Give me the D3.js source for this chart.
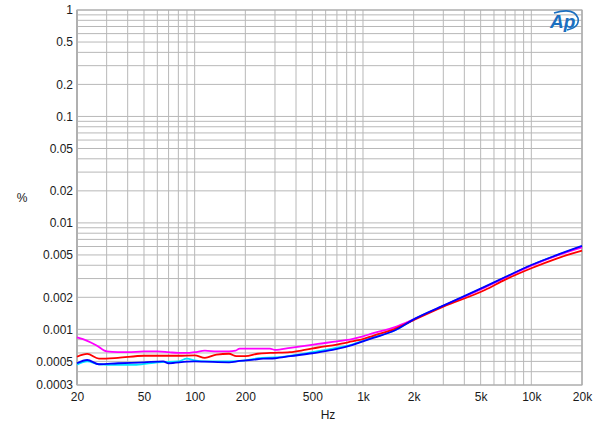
<!DOCTYPE html>
<html>
<head>
<meta charset="utf-8">
<script src="https://cdn.jsdelivr.net/npm/d3@7"></script>
<style>
  body { margin: 0; background: #fff; }
  svg { display: block; }
  text { font-family: "Liberation Sans", Arial, sans-serif; font-size: 12px; fill: #1a1a1a; }
</style>
</head>
<body>
<svg id="chart" width="600" height="433"></svg>
<script>
// ---- data ----
const xTickLabels = ["20","50","100","200","500","1k","2k","5k","10k","20k"];
const xTickValues = [20,50,100,200,500,1000,2000,5000,10000,20000];
const yTickLabels = ["1","0.5","0.2","0.1","0.05","0.02","0.01","0.005","0.002","0.001","0.0005","0.0003"];
const yTickValues = [1,0.5,0.2,0.1,0.05,0.02,0.01,0.005,0.002,0.001,0.0005,0.0003];

const cyanFreq = [20,23,27,35,45,60,80,90,100,115,160,200,250,300,500,660,860,1000,1150,1550,2000,3000,5300,7000,10000,14000,20000];
const cyanVal  = [0.000466,0.0005,0.00047,0.000464,0.000465,0.00049,0.0005,0.00053,0.00051,0.0005,0.0005,0.00051,0.00054,0.000545,0.00061,0.00066,0.00072,0.00078,0.00084,0.00098,0.00124,0.00166,0.0025,0.00308,0.004,0.00493,0.00604];

const magentaFreq = [20,23,26,30,35,40,50,60,70,80,90,100,115,135,160,175,185,220,280,300,370,450,540,700,860,1000,1150,1550,2000,3000,5300,7000,10000,14000,20000];
const magentaVal  = [0.00084,0.00078,0.00071,0.00062,0.00061,0.00061,0.00062,0.00062,0.00061,0.0006,0.0006,0.00061,0.00063,0.00062,0.00062,0.00063,0.00066,0.00066,0.00066,0.00064,0.00067,0.0007,0.00073,0.00077,0.00081,0.00086,0.00092,0.00105,0.00124,0.00166,0.00248,0.00306,0.00397,0.0049,0.0059];

const redFreq = [20,23,27,35,50,80,100,115,135,160,177,200,237,282,368,450,540,700,860,1000,1150,1550,2000,3000,5300,7000,10000,14000,20000];
const redVal  = [0.000553,0.000587,0.00053,0.00054,0.000565,0.000565,0.00057,0.00054,0.00058,0.00059,0.00056,0.00056,0.00059,0.0006,0.00061,0.00064,0.000675,0.00072,0.00077,0.00081,0.00087,0.00101,0.00122,0.00163,0.00234,0.00293,0.00375,0.0046,0.00548];

const blueFreq = [20,23,27,35,50,65,70,90,100,115,160,185,225,255,300,370,500,660,860,1000,1150,1550,2000,3000,5300,7000,10000,14000,20000];
const blueVal  = [0.00048,0.000515,0.00047,0.00048,0.00049,0.0005,0.00048,0.000497,0.0005,0.000497,0.00049,0.000505,0.00052,0.00053,0.000535,0.00056,0.000596,0.00064,0.00071,0.00077,0.00083,0.00098,0.00124,0.00167,0.00252,0.0031,0.00402,0.00495,0.00607];

const seriesList = [
  {freq: cyanFreq, val: cyanVal, color: "#00e5ff"},
  {freq: magentaFreq, val: magentaVal, color: "#ff00ff"},
  {freq: redFreq, val: redVal, color: "#ff0000"},
  {freq: blueFreq, val: blueVal, color: "#0000ff"}
];

// ---- layout ----
const L = 77, R = 582, T = 10, B = 385;
const svg = d3.select("#chart");
const x = d3.scaleLog().domain([20, 20000]).range([L, R]);
const y = d3.scaleLog().domain([0.0003, 1]).range([B, T]);

// grid values: every integer multiple per decade
const xGrid = [];
for (let d = 10; d <= 10000; d *= 10) for (let m = 1; m <= 9; m++) { const v = d * m; if (v >= 20 && v <= 20000) xGrid.push(v); }
xGrid.push(20000);
const yGrid = [];
for (let d = 0.0001; d <= 0.11; d *= 10) for (let m = 1; m <= 9; m++) { const v = d * m; if (v >= 0.00029 && v <= 1.0001) yGrid.push(v); }
yGrid.push(1);

const grid = svg.append("g");
grid.selectAll("line.v").data(xGrid).enter().append("line")
  .attr("x1", d => x(d)).attr("x2", d => x(d)).attr("y1", T).attr("y2", B)
  .attr("stroke", "#b8b8b8").attr("stroke-width", 1);
grid.selectAll("line.h").data(yGrid).enter().append("line")
  .attr("x1", L).attr("x2", R).attr("y1", d => y(d)).attr("y2", d => y(d))
  .attr("stroke", "#b8b8b8").attr("stroke-width", 1);

// border
svg.append("rect").attr("x", L).attr("y", T).attr("width", R - L).attr("height", B - T)
  .attr("fill", "none").attr("stroke", "#a8a8a8").attr("stroke-width", 1);
svg.append("line").attr("x1", L).attr("x2", L).attr("y1", T).attr("y2", B)
  .attr("stroke", "#b0b0b0").attr("stroke-width", 2);

// axes (labels only)
const xAxis = d3.axisBottom(x).tickValues(xTickValues).tickFormat((d, i) => xTickLabels[i]).tickSize(0).tickPadding(7);
const gx = svg.append("g").attr("transform", `translate(0,${B})`).call(xAxis);
gx.select(".domain").remove();
gx.selectAll("text").attr("font-size", 12).attr("fill", "#1a1a1a").style("font-family", '"Liberation Sans", Arial, sans-serif');

const yAxis = d3.axisLeft(y).tickValues(yTickValues).tickFormat((d, i) => yTickLabels[i]).tickSize(0).tickPadding(4);
const gy = svg.append("g").attr("transform", `translate(${L},0)`).call(yAxis);
gy.select(".domain").remove();
gy.selectAll("text").attr("font-size", 12).attr("fill", "#1a1a1a").style("font-family", '"Liberation Sans", Arial, sans-serif');

svg.append("text").attr("x", 328).attr("y", 419).attr("text-anchor", "middle").text("Hz");
svg.append("text").attr("x", 22).attr("y", 202).attr("text-anchor", "middle").text("%");

// curves
const line = d3.line().x(d => x(d[0])).y(d => y(d[1])).curve(d3.curveMonotoneX);
const plot = svg.append("g");
seriesList.forEach(s => {
  const pts = s.freq.map((f, i) => [f, s.val[i]]);
  plot.append("path").datum(pts).attr("d", line)
    .attr("fill", "none").attr("stroke", s.color).attr("stroke-width", 1.8)
    .attr("stroke-linejoin", "round");
});

// AP logo
const logo = svg.append("g");
logo.append("text").attr("x", 550).attr("y", 28)
  .style("font-family", '"Liberation Sans", Arial, sans-serif')
  .style("font-size", "19px").style("font-style", "italic").style("font-weight", "bold")
  .style("fill", "#1b6fc0").text("Ap");
logo.append("path").attr("d", "M554,13 Q574,7 578,18 Q580,27 567,30")
  .attr("fill", "none").attr("stroke", "#1b6fc0").attr("stroke-width", 1.6);
</script>
</body>
</html>
